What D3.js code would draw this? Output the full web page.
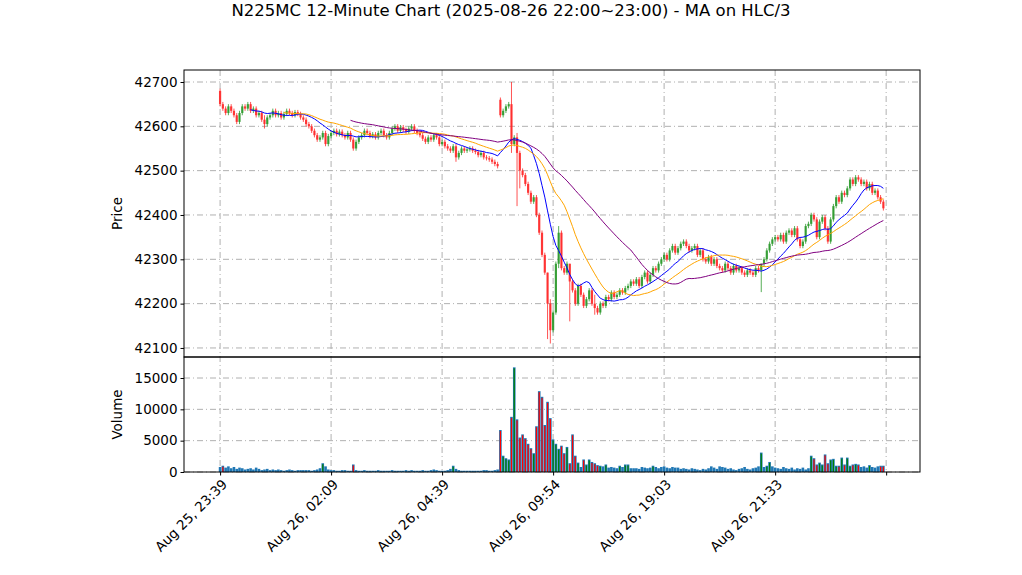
<!DOCTYPE html>
<html>
<head>
<meta charset="utf-8">
<script src="https://cdn.jsdelivr.net/npm/d3@7"></script>
<style>
  body { margin: 0; background: #fff; }
  text { font-family: "DejaVu Sans", sans-serif; }
</style>
</head>
<body>
<svg id="chart" width="1022" height="575"></svg>
<script>
// ---- data ----
var closes = [
  42650,42640,42630,42645,42635,42625,42610,42630,42645,42640,
  42650,42635,42640,42625,42630,42615,42605,42620,42625,42635,
  42625,42630,42620,42628,42635,42630,42625,42632,42628,42620,
  42615,42605,42600,42590,42580,42570,42575,42585,42560,42578,
  42585,42590,42582,42588,42580,42575,42585,42570,42550,42565,
  42575,42580,42590,42585,42578,42582,42575,42585,42590,42580,
  42575,42585,42595,42600,42590,42598,42592,42588,42595,42600,
  42590,42585,42580,42572,42565,42575,42570,42580,42575,42560,
  42565,42555,42550,42545,42555,42530,42540,42550,42545,42548,
  42550,42545,42542,42535,42540,42530,42528,42525,42520,42515,
  42510,42625,42635,42645,42650,42560,42575,42540,42500,42490,
  42470,42450,42430,42440,42400,42360,42310,42270,42200,42140,
  42180,42290,42360,42280,42270,42290,42250,42230,42200,42240,
  42220,42195,42210,42230,42200,42190,42180,42200,42195,42215,
  42210,42225,42215,42220,42230,42225,42235,42240,42250,42245,
  42255,42240,42260,42270,42250,42265,42280,42275,42290,42300,
  42310,42300,42320,42330,42315,42325,42335,42340,42330,42320,
  42325,42330,42310,42320,42300,42295,42305,42290,42300,42285,
  42280,42275,42290,42280,42270,42285,42275,42280,42270,42265,
  42275,42270,42265,42280,42275,42290,42300,42320,42335,42345,
  42350,42345,42355,42340,42360,42365,42355,42370,42345,42330,
  42340,42375,42380,42400,42390,42350,42385,42395,42370,42340,
  42390,42420,42440,42430,42450,42445,42460,42480,42470,42485,
  42480,42470,42475,42460,42470,42450,42455,42440,42430,42415
];
var volumes = [
  800,1000,700,900,600,800,500,700,600,400,
  500,600,400,700,500,300,400,500,300,400,
  300,400,300,200,300,400,300,200,300,300,
  300,300,300,200,300,400,600,1400,900,400,
  300,300,200,200,300,300,200,200,1200,300,
  200,200,300,200,200,200,200,300,200,200,
  200,200,300,200,200,200,200,300,200,300,
  200,200,200,300,200,200,300,400,300,200,
  200,200,300,500,1000,500,300,200,200,200,
  200,200,200,200,200,300,300,200,200,300,
  400,6700,2600,2200,2000,8800,16700,8400,5500,6000,
  5400,4500,3800,3000,7300,12900,12000,7500,11200,8600,
  5200,4500,3700,4200,3000,4000,1400,6000,2600,1500,
  800,2000,1200,2000,1600,1400,1100,1000,900,1200,
  700,800,700,600,1000,800,1200,1200,600,600,
  600,500,800,700,600,700,1000,800,600,800,
  900,700,600,800,700,700,500,600,500,400,
  600,500,400,300,500,400,600,900,700,500,
  900,800,700,500,600,400,300,500,600,800,
  500,400,600,700,900,3100,800,1000,1600,900,
  700,600,500,800,600,500,700,400,600,500,
  700,400,600,2600,2200,1200,1500,1200,2800,1400,
  2000,2100,1000,1000,2300,1200,2300,1000,1200,1300,
  1200,800,900,700,1100,800,700,900,1000,1000
];
var firstOpen = 42680;
var openOverrides = { 101: 42660 };
// notable wicks [high, low]
var wickOverrides = {
  0: [42685, 42645], 16: [42625, 42595], 38: [42590, 42555], 48: [42575, 42545],
  85: [42560, 42520], 105: [42700, 42540], 107: [42585, 42420], 108: [42545, 42460],
  118: [42270, 42120], 119: [42210, 42110], 122: [42375, 42280],
  126: [42290, 42160], 135: [42220, 42175], 195: [42290, 42226]
};
var maWindows = [12, 24, 48];
var maColors = ["blue", "orange", "purple"];
var tickIdx = [0, 40, 80, 120, 160, 200, 240];
var tickLabels = ["Aug 25, 23:39", "Aug 26, 02:09", "Aug 26, 04:39", "Aug 26, 09:54", "Aug 26, 19:03", "Aug 26, 21:33", ""];
var priceTicks = [42100, 42200, 42300, 42400, 42500, 42600, 42700];
var volTicks = [0, 5000, 10000, 15000];

// ---- build candles ----
var bars = closes.map(function(c, i) {
  var o = i === 0 ? firstOpen : (openOverrides[i] !== undefined ? openOverrides[i] : closes[i - 1]);
  var w = wickOverrides[i];
  var h = w ? w[0] : Math.max(o, c) + 5;
  var l = w ? w[1] : Math.min(o, c) - 5;
  return { i: i, o: o, h: h, l: l, c: c, v: volumes[i] };
});

var svg = d3.select("#chart");
var L = 184, R = 920, pTop = 70, pBot = 357, vBot = 472;

var x = d3.scaleLinear().domain([-13, 252.2]).range([L, R]);
var y = d3.scaleLinear().domain([42700 + (82 - pTop) * 2.256, 42700 - (pBot - 82) * 2.256]).range([pTop, pBot]);
var yv = d3.scaleLinear().domain([0, (vBot - pBot) * 15000 / 94]).range([vBot, pBot]);

var gridColor = "#b0b0b0";
function grid(g, ys) {
  ys.forEach(function(yy) {
    g.append("line").attr("x1", L).attr("x2", R).attr("y1", yy).attr("y2", yy)
      .attr("stroke", gridColor).attr("stroke-dasharray", "6,3,1,3");
  });
}
var gp = svg.append("g");
grid(gp, priceTicks.map(y));
grid(gp, volTicks.map(yv));
tickIdx.forEach(function(t) {
  gp.append("line").attr("x1", x(t)).attr("x2", x(t)).attr("y1", pTop).attr("y2", vBot)
    .attr("stroke", gridColor).attr("stroke-dasharray", "6,3,1,3");
});

var up = "#2e9a2e", down = "#ff2a2a";

// candles
var cg = svg.append("g").attr("clip-path", "url(#clipP)");
svg.append("clipPath").attr("id", "clipP").append("rect").attr("x", L).attr("y", pTop).attr("width", R - L).attr("height", pBot - pTop);
cg.selectAll("line.w").data(bars).enter().append("line")
  .attr("x1", function(d) { return x(d.i); }).attr("x2", function(d) { return x(d.i); })
  .attr("y1", function(d) { return y(d.h); }).attr("y2", function(d) { return y(d.l); })
  .attr("stroke", function(d) { return d.c >= d.o ? up : down; }).attr("stroke-width", 1).attr("opacity", 0.8);
cg.selectAll("rect.b").data(bars).enter().append("rect")
  .attr("x", function(d) { return x(d.i) - 1.1; }).attr("width", 2.2)
  .attr("y", function(d) { return y(Math.max(d.o, d.c)); })
  .attr("height", function(d) { return Math.max(1, Math.abs(y(d.o) - y(d.c))); })
  .attr("fill", function(d) { return d.c >= d.o ? up : down; }).attr("opacity", 0.9);

// moving averages on HLC/3
var typ = bars.map(function(d) { return (d.h + d.l + d.c) / 3; });
maWindows.forEach(function(w, k) {
  var pts = [];
  for (var i = w - 1; i < typ.length; i++) {
    pts.push([i, d3.mean(typ.slice(i - w + 1, i + 1))]);
  }
  cg.append("path").datum(pts)
    .attr("d", d3.line().x(function(p) { return x(p[0]); }).y(function(p) { return y(p[1]); }))
    .attr("fill", "none").attr("stroke", maColors[k]).attr("stroke-width", 1);
});

// volume
var vg = svg.append("g");
vg.selectAll("rect.v").data(bars).enter().append("rect")
  .attr("x", function(d) { return x(d.i) - 1.3; }).attr("width", 2.6)
  .attr("y", function(d) { return yv(d.v); }).attr("height", function(d) { return vBot - yv(d.v); })
  .attr("fill", "#1f77b4");
vg.selectAll("rect.vc").data(bars.filter(function(d) { return d.v > 900; })).enter().append("rect")
  .attr("x", function(d) { return x(d.i) - 0.6; }).attr("width", 1.2)
  .attr("y", function(d) { return yv(d.v) + 1; }).attr("height", function(d) { return Math.max(0, vBot - yv(d.v) - 1); })
  .attr("fill", function(d) { return d.c >= d.o ? "green" : "red"; });

// axes
svg.append("g").attr("transform", "translate(" + L + ",0)")
  .call(d3.axisLeft(y).tickValues(priceTicks).tickSize(3.5).tickPadding(3).tickFormat(d3.format("d")));
svg.append("g").attr("transform", "translate(" + L + ",0)")
  .call(d3.axisLeft(yv).tickValues(volTicks).tickSize(3.5).tickPadding(3).tickFormat(d3.format("d")));
var xa = svg.append("g").attr("transform", "translate(0," + vBot + ")")
  .call(d3.axisBottom(x).tickValues(tickIdx).tickSize(3.5).tickFormat(function(d, i) { return tickLabels[i]; }));
xa.selectAll("text").attr("text-anchor", "end").attr("dx", "-0.3em").attr("dy", "0.6em")
  .attr("transform", "rotate(-45)");
svg.selectAll(".tick text").attr("font-size", 13.5).attr("fill", "#000").attr("font-family", "DejaVu Sans");
svg.selectAll(".domain").remove();

// frames
[[pTop, pBot], [pBot, vBot]].forEach(function(f) {
  svg.append("rect").attr("x", L).attr("y", f[0]).attr("width", R - L).attr("height", f[1] - f[0])
    .attr("fill", "none").attr("stroke", "#000").attr("stroke-width", 1);
});

svg.append("text").attr("x", 511).attr("y", 16).attr("text-anchor", "middle").attr("font-size", 16.5)
  .text("N225MC 12-Minute Chart (2025-08-26 22:00~23:00) - MA on HLC/3");
svg.append("text").attr("transform", "translate(122," + ((pTop + pBot) / 2) + ") rotate(-90)")
  .attr("text-anchor", "middle").attr("font-size", 13.5).text("Price");
svg.append("text").attr("transform", "translate(122," + ((pBot + vBot) / 2) + ") rotate(-90)")
  .attr("text-anchor", "middle").attr("font-size", 13.5).text("Volume");
</script>
</body>
</html>
